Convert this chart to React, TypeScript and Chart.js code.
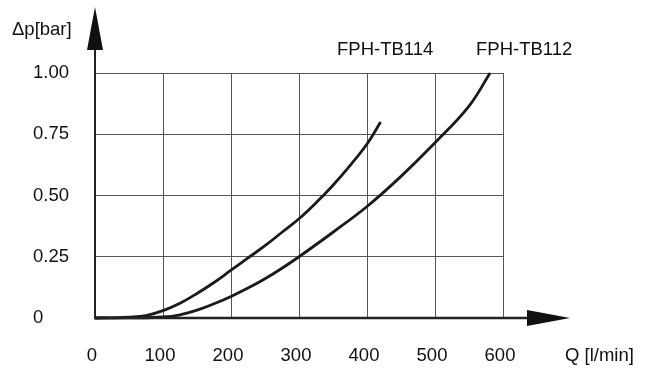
import React, { useEffect, useRef } from "react";
import { Chart, registerables } from "chart.js";

Chart.register(...registerables);

const xTicks = [0, 100, 200, 300, 400, 500, 600];
const yTicks = [0, 0.25, 0.5, 0.75, 1.0];
const yTickLabels = ["0", "0.25", "0.50", "0.75", "1.00"];

const tb114Q = [0, 25, 50, 75, 100, 125, 150, 175, 200, 225, 250, 275, 300, 325, 350, 375, 400, 420];
const tb114P = [0, 0.0005, 0.003, 0.01, 0.03, 0.06, 0.1, 0.145, 0.195, 0.245, 0.295, 0.35, 0.405, 0.47, 0.542, 0.622, 0.71, 0.8];

const tb112Q = [0, 50, 100, 125, 150, 175, 200, 225, 250, 275, 300, 350, 400, 450, 500, 550, 581];
const tb112P = [0, 0.0005, 0.004, 0.013, 0.032, 0.058, 0.088, 0.122, 0.16, 0.203, 0.25, 0.35, 0.455, 0.578, 0.715, 0.865, 1.0];

const seriesLabels = ["FPH-TB114", "FPH-TB112"];
const yAxisTitle = "\u0394p[bar]";
const xAxisTitle = "Q [l/min]";

const FONT = "'Liberation Sans', Arial, sans-serif";
const FONT_SIZE = 18.5;

const decorPlugin = {
  id: "decor",
  afterDraw(chart: any) {
    const ctx = chart.ctx;
    const xs = chart.scales.x;
    const ys = chart.scales.y;
    const x0 = xs.getPixelForValue(0);
    const y0 = ys.getPixelForValue(0);
    const y1 = ys.getPixelForValue(1);
    const x6 = xs.getPixelForValue(600);
    ctx.save();
    ctx.strokeStyle = "#222";
    ctx.fillStyle = "#111";
    ctx.lineWidth = 2;
    // y axis
    ctx.beginPath();
    ctx.moveTo(x0, y0 + 1);
    ctx.lineTo(x0, y1 - 23);
    ctx.stroke();
    ctx.beginPath();
    ctx.moveTo(x0, y1 - 66);
    ctx.lineTo(x0 - 8, y1 - 23);
    ctx.lineTo(x0 + 8, y1 - 23);
    ctx.closePath();
    ctx.fill();
    // x axis
    ctx.lineWidth = 2.5;
    ctx.beginPath();
    ctx.moveTo(x0 - 1, y0);
    ctx.lineTo(x6 + 24, y0);
    ctx.stroke();
    ctx.beginPath();
    ctx.moveTo(x6 + 67, y0);
    ctx.lineTo(x6 + 24, y0 - 8);
    ctx.lineTo(x6 + 24, y0 + 8);
    ctx.closePath();
    ctx.fill();
    // texts
    ctx.fillStyle = "#111";
    ctx.font = `${FONT_SIZE}px ${FONT}`;
    ctx.textBaseline = "middle";
    ctx.textAlign = "left";
    ctx.fillText(yAxisTitle, 12, 30);
    ctx.fillText(xAxisTitle, 565, 356);
    ctx.fillText(seriesLabels[0], 337, 50);
    ctx.fillText(seriesLabels[1], 476, 50);
    ctx.restore();
  },
};

export default function App() {
  const ref = useRef<HTMLCanvasElement | null>(null);
  useEffect(() => {
    if (!ref.current) return;
    document.body.style.margin = "0";
    document.body.style.overflow = "hidden";
    const chart = new Chart(ref.current, {
      type: "line",
      data: {
        datasets: [
          {
            label: seriesLabels[0],
            data: tb114Q.map((q, i) => ({ x: q, y: tb114P[i] })),
            borderColor: "#1a1a1a",
            borderWidth: 2.8,
            pointRadius: 0,
            tension: 0.4,
            clip: 6,
          },
          {
            label: seriesLabels[1],
            data: tb112Q.map((q, i) => ({ x: q, y: tb112P[i] })),
            borderColor: "#1a1a1a",
            borderWidth: 2.8,
            pointRadius: 0,
            tension: 0.4,
            clip: 6,
          },
        ],
      },
      options: {
        responsive: false,
        animation: false,
        layout: { padding: { left: 33, right: 147, top: 73, bottom: 0 } },
        plugins: { legend: { display: false }, tooltip: { enabled: false } },
        scales: {
          x: {
            type: "linear",
            min: 0,
            max: 600,
            afterBuildTicks: (s: any) => {
              s.ticks = xTicks.map((v) => ({ value: v }));
            },
            afterFit: (s: any) => {
              s.height = 53;
            },
            grid: { color: "#555", lineWidth: 1, drawTicks: false },
            border: { display: false },
            ticks: {
              font: { family: FONT, size: FONT_SIZE },
              color: "#111",
              padding: 27,
              labelOffset: -3,
              maxRotation: 0,
              autoSkip: false,
            },
          },
          y: {
            type: "linear",
            min: 0,
            max: 1,
            afterBuildTicks: (s: any) => {
              s.ticks = yTicks.map((v) => ({ value: v }));
            },
            afterFit: (s: any) => {
              s.width = 62;
            },
            grid: { color: "#555", lineWidth: 1, drawTicks: false },
            border: { display: false },
            ticks: {
              font: { family: FONT, size: FONT_SIZE },
              color: "#111",
              crossAlign: "far",
              autoSkip: false,
              callback: (v: any) => {
                const i = yTicks.indexOf(Number(v));
                return i >= 0 ? yTickLabels[i] : "";
              },
            },
          },
        },
      },
      plugins: [decorPlugin],
    } as any);
    return () => chart.destroy();
  }, []);
  return (
    <div style={{ position: "absolute", left: 0, top: 0, width: 650, height: 371, overflow: "hidden", background: "#fff" }}>
      <canvas ref={ref} width={650} height={371} style={{ display: "block" }} />
    </div>
  );
}
